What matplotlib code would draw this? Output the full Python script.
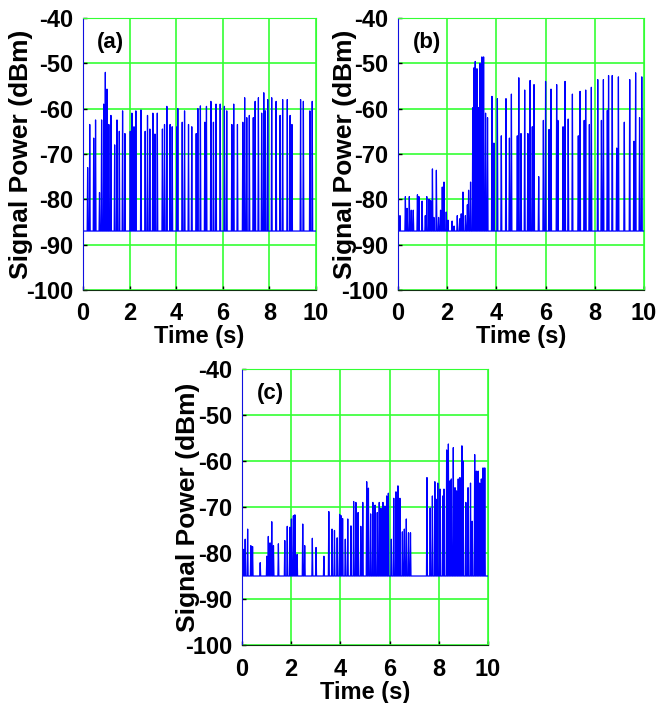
import numpy as np
import matplotlib.pyplot as plt

plt.rcParams['font.family'] = ['Liberation Sans', 'DejaVu Sans']
plt.rcParams['font.weight'] = 'bold'
plt.rcParams['axes.unicode_minus'] = False

# spike times (s) and peak levels (dBm)
t_a = [0.00, 0.20, 0.29, 0.46, 0.54, 0.71, 0.80, 0.89, 0.96, 1.03, 1.11, 1.20, 1.36, 1.46,
       1.56, 1.70, 1.80, 2.03, 2.10, 2.19, 2.27, 2.49, 2.67, 2.77, 2.87, 3.00, 3.09, 3.19,
       3.41, 3.50, 3.60, 3.74, 3.83, 4.03, 4.07, 4.26, 4.36, 4.53, 4.67, 4.86, 4.93, 5.04,
       5.23, 5.30, 5.49, 5.60, 5.71, 5.89, 6.07, 6.17, 6.39, 6.47, 6.63, 6.86, 6.94, 7.03,
       7.14, 7.31, 7.39, 7.53, 7.67, 7.76, 7.83, 7.93, 8.10, 8.29, 8.46, 8.57, 8.77, 8.89,
       8.97, 9.34, 9.46, 9.74, 9.84]
p_a = [-76, -73, -63.5, -66.5, -62.5, -78.5, -62.5, -59, -52, -55.7, -63.5, -61.5, -68, -62.5,
       -65, -60.5, -65.5, -65, -61, -64, -60.5, -60.3, -65, -61.5, -64.5, -61, -65.6, -61,
       -64.5, -63.5, -59.5, -63.5, -64, -64, -60, -63, -60.5, -63.5, -64, -65.5, -60, -59.4,
       -63, -59.5, -58.4, -63, -59, -59, -59.5, -60.5, -63.5, -59, -63.5, -63, -57.6, -62,
       -61.5, -62, -58.4, -57.6, -61, -56.5, -60.5, -58, -57.6, -58.4, -61.5, -58, -58, -61.5,
       -63.5, -58, -58.4, -60.5, -58.4]
base_a = -87

t_b = [0.08, 0.30, 0.37, 0.46, 0.54, 0.62, 0.79, 0.85, 0.98, 1.11, 1.17, 1.26, 1.33, 1.40,
       1.46, 1.56, 1.65, 1.73, 1.80, 1.87, 1.96, 2.03, 2.20, 2.28, 2.41, 2.51, 2.57, 2.64,
       2.74, 2.82, 2.87, 2.95, 3.04, 3.09, 3.14, 3.21, 3.27, 3.33, 3.41, 3.48, 3.56, 3.64,
       3.82, 3.90, 4.04, 4.20, 4.39, 4.53, 4.61, 4.85, 4.91, 5.00, 5.15, 5.28, 5.37, 5.46,
       5.53, 5.72, 5.91, 6.00, 6.14, 6.22, 6.45, 6.50, 6.71, 6.79, 6.92, 7.09, 7.33, 7.40,
       7.57, 7.63, 7.78, 7.86, 8.12, 8.27, 8.35, 8.51, 8.56, 8.71, 8.89, 8.96, 9.20, 9.42,
       9.59, 9.66, 9.82, 9.91]
p_b = [-83.6, -79.4, -82, -79.4, -82.4, -82.4, -79, -79.4, -80.4, -83.6, -79.4, -80, -80.3, -73.3,
       -84, -73.6, -84, -82.4, -77.3, -76.2, -82.8, -84.6, -84.8, -85.9, -83.6, -84.3, -83.2, -78.4,
       -83.6, -81.2, -78, -76.2, -59.8, -51, -49.6, -51.2, -59.8, -50, -48.6, -48.6, -61, -62,
       -57.3, -67.6, -57.8, -66, -57.8, -66.5, -56.8, -66, -53.2, -65.5, -55.9, -65.5, -53.8, -64,
       -54.7, -75, -62.6, -54, -64.6, -55.7, -54.7, -62.6, -64, -54, -62.3, -56.8, -66, -56.2,
       -62.6, -55.9, -63.5, -55.3, -53.6, -62.6, -53.6, -60.4, -52.7, -52.7, -68.7, -53, -63, -53.6,
       -67.2, -52.1, -62, -53]
base_b = -87

t_c = [0.00, 0.07, 0.13, 0.23, 0.36, 0.43, 0.74, 1.01, 1.07, 1.14, 1.21, 1.28, 1.48, 1.74,
       1.84, 1.95, 2.01, 2.09, 2.15, 2.24, 2.47, 2.55, 2.86, 3.01, 3.33, 3.53, 3.66, 3.76,
       3.87, 3.97, 4.03, 4.09, 4.20, 4.30, 4.43, 4.54, 4.63, 4.72, 4.83, 4.91, 5.07, 5.14,
       5.23, 5.32, 5.41, 5.50, 5.58, 5.65, 5.73, 5.81, 5.88, 5.95, 6.07, 6.17, 6.26, 6.34,
       6.42, 6.52, 6.60, 6.68, 6.77, 6.85, 7.52, 7.65, 7.74, 7.84, 7.89, 7.96, 8.05, 8.16,
       8.21, 8.32, 8.39, 8.46, 8.51, 8.59, 8.66, 8.72, 8.79, 8.86, 8.94, 8.99, 9.10, 9.19,
       9.29, 9.36, 9.46, 9.53, 9.60, 9.66, 9.73, 9.80, 9.87]
p_c = [-76.7, -79.2, -77, -74.8, -78.4, -78.6, -82.1, -80.7, -76.4, -77.8, -73.2, -78.4, -78, -77.3,
       -74.2, -74.4, -72.6, -71.9, -71.7, -80.3, -73.7, -78.4, -76.8, -78.8, -80.7, -71, -74.8, -75.1,
       -76.7, -71.6, -71.9, -72.5, -77, -72.6, -74.1, -68.8, -69, -71.2, -74.2, -69, -64.5, -65.9,
       -71.5, -69, -69.6, -71.2, -69, -70.3, -69, -69.8, -67.6, -67, -77, -68.1, -66.7, -65.4,
       -68.1, -75.4, -74.8, -72.6, -75.6, -75.6, -63.6, -70.2, -67.6, -64.5, -68.3, -64.8, -66.1, -67.6,
       -66.1, -57.6, -56.3, -64.3, -63.9, -57.1, -65.8, -66.5, -63.9, -63.6, -56.7, -60, -69, -65.8,
       -64.8, -73.1, -58.6, -62.2, -62.2, -64.8, -63.9, -61.5, -61.5]
base_c = -85

tick_font = ['Liberation Sans Narrow', 'Liberation Sans', 'DejaVu Sans']


def spike_trace(times, peaks, base, hw=0.02):
    t = np.asarray(times)
    p = np.asarray(peaks)
    xs = np.column_stack([t - hw, t, t + hw]).ravel()
    ys = np.column_stack([np.full_like(p, base), p, np.full_like(p, base)]).ravel()
    xs = np.concatenate([[0], np.clip(xs, 0, 10), [10]])
    ys = np.concatenate([[base], ys, [base]])
    return xs, ys


def style_ax(ax, tag, ylab_x):
    ax.set_xlim(0, 10)
    ax.set_ylim(-100, -40)
    ax.set_xticks(np.arange(0, 11, 2))
    ax.set_yticks(np.arange(-100, -39, 10))
    ax.grid(True, color='#33ff33', linewidth=1.2)
    ax.set_axisbelow(True)
    ax.tick_params(direction='in', length=3, labelsize=17, width=1)
    ax.tick_params(axis='x', pad=9)
    ax.tick_params(axis='y', pad=7)
    for lab in ax.get_xticklabels() + ax.get_yticklabels():
        lab.set_fontweight('bold')
        lab.set_family(tick_font)
    ax.spines['top'].set_color('#33ff33')
    ax.spines['right'].set_color('#33ff33')
    ax.spines['left'].set_color('#1010e0')
    ax.spines['bottom'].set_color('#103010')
    ax.set_xlabel('Time (s)', fontsize=17, fontweight='bold', labelpad=0)
    ax.set_ylabel('Signal Power (dBm)', fontsize=19, fontweight='bold')
    ax.yaxis.set_label_coords(ylab_x, 0.5)
    ax.text(0.06, 0.89, tag, transform=ax.transAxes, fontsize=16, fontweight='bold')


fig = plt.figure(figsize=(6.67, 7.03), dpi=100)
ax_a = fig.add_axes([0.1244, 0.5875, 0.3493, 0.387])
ax_b = fig.add_axes([0.5967, 0.5875, 0.3688, 0.387])
ax_c = fig.add_axes([0.3628, 0.0825, 0.3688, 0.3926])

for ax, t, p, b, tag, lx in [(ax_a, t_a, p_a, base_a, '(a)', -50 / 233),
                             (ax_b, t_b, p_b, base_b, '(b)', -41 / 246),
                             (ax_c, t_c, p_c, base_c, '(c)', -42 / 246)]:
    xs, ys = spike_trace(t, p, b)
    ax.plot(xs, ys, color='#0000ff', linewidth=0.9)
    style_ax(ax, tag, lx)

fig.savefig('out.png', dpi=100)
